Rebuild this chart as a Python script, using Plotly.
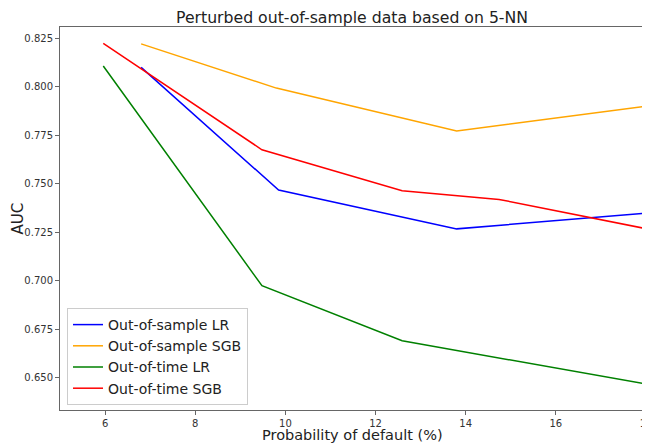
import plotly.graph_objects as go

# Data
os_lr_x = [6.8, 9.85, 13.8, 18.0]
os_lr_y = [0.810, 0.7467, 0.7267, 0.7348]

os_sgb_x = [6.8, 9.8, 13.8, 18.0]
os_sgb_y = [0.8221, 0.7993, 0.7772, 0.7900]

ot_lr_x = [5.96, 9.48, 12.59, 18.0]
ot_lr_y = [0.8107, 0.6974, 0.6690, 0.6467]

ot_sgb_x = [5.96, 9.48, 12.59, 14.74, 18.0]
ot_sgb_y = [0.8224, 0.7675, 0.7464, 0.7419, 0.7268]

x_ticks = [6, 8, 10, 12, 14, 16, 18]
y_ticks = [0.650, 0.675, 0.700, 0.725, 0.750, 0.775, 0.800, 0.825]

series = [
    ("Out-of-sample LR", os_lr_x, os_lr_y, "#0000ff"),
    ("Out-of-sample SGB", os_sgb_x, os_sgb_y, "#ffa500"),
    ("Out-of-time LR", ot_lr_x, ot_lr_y, "#008000"),
    ("Out-of-time SGB", ot_sgb_x, ot_sgb_y, "#ff0000"),
]

fig = go.Figure()
for name, xs, ys, col in series:
    fig.add_trace(go.Scatter(x=xs, y=ys, mode="lines", name=name,
                             line=dict(color=col, width=1.5)))

# page has an 8px body margin; figure is sized/shifted to compensate
OFF = 8
W, H = 650 - OFF, 445 - OFF
L, T = 60 - OFF, 27 - OFF
R = W - (646 - OFF)
B = H - (410 - OFF)
PW, PH = W - L - R, H - T - B

font_family = "DejaVu Sans"
fig.update_layout(
    width=W, height=H,
    margin=dict(l=L, r=R, t=T, b=B, autoexpand=False),
    paper_bgcolor="white", plot_bgcolor="white",
    font=dict(family=font_family, color="#222"),
    title=dict(text="Perturbed out-of-sample data based on 5-NN",
               x=(352 - OFF) / W, xanchor="center",
               y=1 - (18 - OFF) / H, yanchor="middle",
               font=dict(size=15.7, color="#222")),
    showlegend=True,
    legend=dict(x=(67 - 60) / PW, y=(410 - 405) / PH, xanchor="left", yanchor="bottom",
                bgcolor="rgba(255,255,255,0.8)", bordercolor="#cccccc",
                borderwidth=1, font=dict(size=14, color="#222"),
                tracegroupgap=0),
    annotations=[
        dict(text="Probability of default (%)", xref="paper", yref="paper",
             x=(352.5 - 60) / PW, y=-(434.5 - 410) / PH, xanchor="center",
             yanchor="middle", showarrow=False, font=dict(size=14.5, color="#222")),
        dict(text="AUC", xref="paper", yref="paper", textangle=-90,
             x=-(60 - 17) / PW, y=0.5, xanchor="center", yanchor="middle",
             showarrow=False, font=dict(size=15, color="#222")),
    ],
)
fig.update_xaxes(range=[5, 18.0001], tickvals=x_ticks, ticktext=[str(v) for v in x_ticks],
                 showgrid=False, zeroline=False, showline=True, mirror=True,
                 linecolor="#666", linewidth=1, ticks="outside", ticklen=4,
                 tickcolor="#666", tickfont=dict(size=10, color="#333"),
                 ticklabeloverflow="allow", automargin=False)
fig.update_yaxes(range=[0.6333, 0.8308], tickvals=y_ticks,
                 ticktext=[f"{v:.3f}" for v in y_ticks],
                 showgrid=False, zeroline=False, showline=True, mirror=True,
                 linecolor="#666", linewidth=1, ticks="outside", ticklen=4,
                 tickcolor="#666", tickfont=dict(size=10, color="#333"),
                 automargin=False)

fig.write_html("out.html")
